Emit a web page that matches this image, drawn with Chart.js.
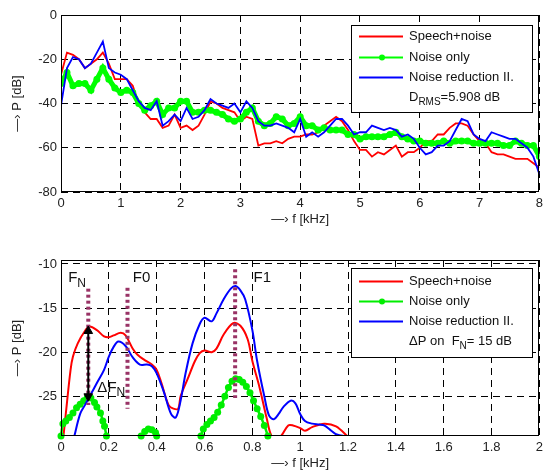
<!DOCTYPE html>
<html>
<head>
<meta charset="utf-8">
<script src="https://cdn.jsdelivr.net/npm/chart.js@4/dist/chart.umd.min.js"></script>
<style>
  body { margin: 0; background: #fff; width: 547px; height: 473px; overflow: hidden; position: relative; }
  canvas { position: absolute; left: 0; }
  #top { top: 0; }
  #bot { top: 230px; }
</style>
</head>
<body>
<canvas id="top" width="547" height="230"></canvas>
<canvas id="bot" width="547" height="243"></canvas>
<script>
// --- top panel: spectra 0..8 kHz, sampled every 0.1 kHz ---
const freqTop = [];
for (let i = 0; i <= 80; i++) freqTop.push(i / 10);

const speechTop = [-27, -17, -18, -20, -24, -22, -20, -17, -22, -29,
  -29, -29, -32, -40, -44, -47, -47, -51, -50, -45,
  -51, -50, -52, -50, -45, -39, -40, -42, -43, -44,
  -48, -46, -47, -59, -58, -58, -57, -58, -56, -55,
  -55, -54, -54, -53, -50, -48, -46, -48, -52, -57,
  -61, -61, -64, -62, -63, -61, -59, -64, -62, -62,
  -60, -57, -57, -54, -54, -51, -49, -49, -50, -54,
  -57, -58, -62, -63, -63, -64, -65, -65, -65, -67, -69];
const noiseTop = [-31, -26, -32, -31, -31, -34, -29, -24, -29, -33,
  -35, -34, -35, -40, -43, -41, -39, -45, -42, -42,
  -39, -39, -44, -44, -43, -43, -44, -45, -47, -48,
  -47, -44, -42, -48, -50, -49, -46, -47, -50, -49,
  -46, -50, -50, -52, -51, -52, -52, -52, -54, -54,
  -56, -55, -55, -55, -55, -54, -53, -55, -56, -57,
  -57, -58, -58, -58, -57, -58, -57, -57, -57, -58,
  -58, -58, -58, -58, -59, -59, -57, -58, -59, -59, -64];
const reducedTop = [-41, -24, -19, -20, -24, -22, -17, -12, -24, -26,
  -27, -29, -34, -39, -42, -43, -39, -50, -48, -45,
  -48, -42, -47, -46, -43, -38, -40, -41, -42, -40,
  -44, -39, -42, -48, -50, -50, -49, -50, -51, -53,
  -47, -55, -53, -55, -53, -50, -47, -47, -50, -54,
  -53, -53, -50, -51, -52, -51, -52, -55, -54, -56,
  -60, -63, -62, -59, -59, -57, -52, -47, -48, -54,
  -56, -57, -53, -54, -55, -56, -56, -58, -60, -64, -72];

const xTicksTop = [0, 1, 2, 3, 4, 5, 6, 7, 8];
const yTicksTop = [-80, -60, -40, -20, 0];

// --- bottom panel: zoom 0..2 kHz ---
const speechFreqB = [0.01, 0.02, 0.04, 0.05, 0.07, 0.1, 0.12, 0.15, 0.18, 0.2,
  0.22, 0.25, 0.27, 0.3, 0.32, 0.35, 0.38, 0.4, 0.42, 0.45,
  0.47, 0.49, 0.5, 0.53, 0.56, 0.58, 0.6, 0.63, 0.65, 0.68,
  0.72, 0.75, 0.78, 0.8, 0.83, 0.86, 0.88, 0.9, 0.92, 0.95,
  0.97, 1.0, 1.02, 1.05, 1.1, 1.15, 1.2];
const speechValB = [-29.6, -27, -22, -20.5, -19, -17.6, -17.1, -17.5, -18.2, -18.3,
  -18.1, -17.8, -18.1, -19.6, -20.3, -20.9, -21.4, -22, -23.5, -26,
  -26.4, -26.4, -25, -23, -21, -20.1, -19.8, -20, -19.6, -18,
  -16.7, -17, -18.5, -21, -24, -27.5, -29.5, -29.7, -29.5, -28.3,
  -28.3, -28.6, -28.9, -28.5, -28.1, -28.4, -29.6];

const noiseFreqB = [0, 0.008, 0.02, 0.035, 0.05, 0.065, 0.08, 0.095, 0.11, 0.125,
  0.14, 0.15, 0.165, 0.175, 0.182, 0.19, 0.26,
  0.335, 0.35, 0.365, 0.38, 0.395, 0.4, 0.5,
  0.585, 0.595, 0.61, 0.625, 0.64, 0.655, 0.67, 0.685, 0.7, 0.715,
  0.73, 0.745, 0.76, 0.775, 0.79, 0.805, 0.82, 0.835, 0.85, 0.865];
const noiseValB = [-29.5, -28.1, -27.8, -27.4, -26.9, -26.3, -25.9, -25.5, -25.1, -25.2,
  -25.7, -26.2, -26.9, -27.8, -28.4, -29.5, null,
  -29.5, -29.0, -28.7, -28.8, -29.1, -29.5, null,
  -29.5, -28.7, -28.2, -27.8, -27.4, -26.8, -26.0, -25.0, -24.0, -23.3,
  -23.0, -23.1, -23.4, -23.9, -24.6, -25.5, -26.4, -27.3, -28.3, -29.5];

const reducedFreqB = [0.055, 0.08, 0.1, 0.12, 0.15, 0.18, 0.2, 0.22, 0.24, 0.27,
  0.3, 0.33, 0.36, 0.38, 0.4, 0.43, 0.46, 0.48, 0.5, 0.52,
  0.55, 0.58, 0.6, 0.63, 0.65, 0.68, 0.71, 0.73, 0.75, 0.77,
  0.8, 0.82, 0.85, 0.87, 0.89, 0.91, 0.93, 0.96, 0.98, 1.0,
  1.02, 1.05, 1.08, 1.1, 1.13, 1.15, 1.2];
const reducedValB = [-29.6, -27, -26, -25, -23.5, -22, -20.5, -19.4, -18.8, -19.3,
  -20.6, -21.4, -21.4, -21.6, -22.4, -24.5, -27, -27.4, -25.5, -22.5,
  -19, -16.8, -16.1, -16.5, -15.6, -14, -12.8, -12.5, -13, -14,
  -17.5, -21, -25, -27.2, -27.6, -27, -26.2, -25.5, -25.8, -27,
  -27.8, -28.1, -28.2, -28.3, -28.9, -29.3, -29.6];

const xTicksBot = [0, 0.2, 0.4, 0.6, 0.8, 1, 1.2, 1.4, 1.6, 1.8, 2];
const yTicksBot = [-25, -20, -15, -10];

// markers on the bottom panel: F_N, F0, F1 lines and the delta-P arrow
const markFN = { f: 0.114, from: -12.8, to: -26 };
const markF0 = { f: 0.278, from: -12.7, to: -26.4 };
const markF1 = { f: 0.728, from: -10.6, to: -25.2 };
const arrowFN = { f: 0.114, from: -17.6, to: -25.0 };

const FONT = '"Liberation Sans", Arial, sans-serif';
Chart.defaults.font.family = FONT;
Chart.defaults.font.size = 13;
Chart.defaults.color = '#222';

function pts(xs, ys) {
  return xs.map((x, i) => ({ x: x, y: ys[i] }));
}

function drawParts(ctx, parts, x, y, size) {
  ctx.textBaseline = 'middle';
  ctx.textAlign = 'left';
  ctx.fillStyle = '#111';
  for (const [t, sub] of parts) {
    ctx.font = (sub ? Math.round(size * 0.78) : size) + 'px ' + FONT;
    ctx.fillText(t, x, sub ? y + size * 0.38 : y);
    x += ctx.measureText(t).width;
  }
}

function axes(xr, xt, yr, yt, xH, titleBot) {
  return {
    x: {
      type: 'linear', min: xr[0], max: xr[1],
      afterBuildTicks: s => { s.ticks = xt.map(v => ({ value: v })); },
      afterFit: s => { s.height = xH; },
      grid: { color: '#000', lineWidth: 1, drawTicks: false },
      border: { display: false, dash: [7, 5] },
      ticks: { padding: 4, autoSkip: false, maxRotation: 0, callback: v => String(v) },
      title: { display: true, text: '—› f [kHz]', padding: { top: 0, bottom: titleBot } }
    },
    y: {
      min: yr[0], max: yr[1],
      afterBuildTicks: s => { s.ticks = yt.map(v => ({ value: v })); },
      afterFit: s => { s.width = 61; },
      grid: { color: '#000', lineWidth: 1, drawTicks: false },
      border: { display: false, dash: [7, 5] },
      ticks: { padding: 4, callback: v => String(v) },
      title: { display: true, text: '—› P [dB]', padding: { top: 10, bottom: 0 } }
    }
  };
}

function framePlugin(legend) {
  return {
    id: 'frameLegend',
    afterDraw(chart) {
      const ctx = chart.ctx, a = chart.chartArea;
      ctx.save();
      ctx.strokeStyle = '#000';
      ctx.lineWidth = 1;
      ctx.setLineDash([]);
      ctx.strokeRect(Math.round(a.left) + 0.5, Math.round(a.top) + 0.5,
        Math.round(a.width) - 1, Math.round(a.height) - 1);

      // legend box
      const L = Math.round(a.right) - 188, T = Math.round(a.top) + legend.top;
      ctx.fillStyle = '#fff';
      ctx.fillRect(L, T, 181, legend.h);
      ctx.strokeRect(L + 0.5, T + 0.5, 181, legend.h);
      const items = chart.data.datasets.filter(d => d.inLegend);
      items.forEach((d, i) => {
        const y = Math.round(T + legend.row0 + i * legend.step) + 0.5;
        ctx.strokeStyle = d.borderColor;
        ctx.lineWidth = 2;
        ctx.beginPath();
        ctx.moveTo(L + 8, y);
        ctx.lineTo(L + 52, y);
        ctx.stroke();
        if (d.pointRadius > 0) {
          ctx.fillStyle = d.borderColor;
          ctx.beginPath();
          ctx.arc(L + 31, y, 3, 0, Math.PI * 2);
          ctx.fill();
        }
        drawParts(ctx, [[d.label, 0]], L + 58, y, 13);
      });
      drawParts(ctx, legend.extra, L + 58, T + legend.row0 + 3 * legend.step, 13);

      // free text labels in data units
      (legend.texts || []).forEach(t => {
        const px = chart.scales.x.getPixelForValue(t.f);
        const py = chart.scales.y.getPixelForValue(t.p);
        drawParts(ctx, t.parts, px, py, 15);
      });
      ctx.restore();
    }
  };
}

// ---------- top chart ----------
new Chart(document.getElementById('top').getContext('2d'), {
  type: 'line',
  data: {
    datasets: [
      { label: 'Speech+noise', inLegend: true, data: pts(freqTop, speechTop),
        borderColor: '#ff0000', borderWidth: 1.8, pointRadius: 0, order: 3 },
      { label: 'Noise only', inLegend: true, data: pts(freqTop, noiseTop),
        borderColor: '#00ff00', backgroundColor: '#00ff00', borderWidth: 5,
        pointRadius: 3.5, pointBorderWidth: 0, pointBackgroundColor: '#00ff00', order: 2 },
      { label: 'Noise reduction II.', inLegend: true, data: pts(freqTop, reducedTop),
        borderColor: '#0000ff', borderWidth: 1.8, pointRadius: 0, order: 1 }
    ]
  },
  options: {
    responsive: false,
    animation: false,
    clip: 0,
    layout: { padding: { left: 0, right: 7, top: 15, bottom: 0 } },
    plugins: { legend: { display: false }, tooltip: { enabled: false } },
    scales: axes([0, 8], xTicksTop, [-80, 0], yTicksTop, 38, 3)
  },
  plugins: [framePlugin({
    top: 10, h: 87, row0: 11, step: 20.5,
    extra: [['D', 0], ['RMS', 1], ['=5.908 dB', 0]]
  })]
});

// ---------- bottom chart ----------
const purple = '#993366';
function vline(m, color, width, dash) {
  return { inLegend: false, data: [{ x: m.f, y: m.from }, { x: m.f, y: m.to }],
    borderColor: color, borderWidth: width, borderDash: dash, pointRadius: 0, order: 0 };
}

new Chart(document.getElementById('bot').getContext('2d'), {
  type: 'line',
  data: {
    datasets: [
      { label: 'Speech+noise', inLegend: true, data: pts(speechFreqB, speechValB),
        borderColor: '#ff0000', borderWidth: 2, pointRadius: 0, tension: 0.35, order: 3 },
      { label: 'Noise only', inLegend: true, data: pts(noiseFreqB, noiseValB),
        borderColor: '#00ee00', backgroundColor: '#00ee00', borderWidth: 2.5,
        pointRadius: 3.5, pointBorderWidth: 0, pointBackgroundColor: '#00ee00',
        tension: 0.3, clip: 4, order: 2 },
      { label: 'Noise reduction II.', inLegend: true, data: pts(reducedFreqB, reducedValB),
        borderColor: '#0000ff', borderWidth: 2, pointRadius: 0, tension: 0.35, order: 1 },
      vline(markFN, purple, 4, [3, 3]),
      vline(markF0, purple, 4, [3, 3]),
      vline(markF1, purple, 4, [3, 3]),
      { inLegend: false, data: [{ x: arrowFN.f, y: arrowFN.from }, { x: arrowFN.f, y: arrowFN.to }],
        borderColor: '#000', borderWidth: 2, pointStyle: 'triangle', pointRadius: 5,
        pointRotation: [0, 180], pointBackgroundColor: '#000', pointBorderColor: '#000',
        pointBorderWidth: 1, order: -1 }
    ]
  },
  options: {
    responsive: false,
    animation: false,
    clip: 0,
    layout: { padding: { left: 0, right: 7, top: 30, bottom: 0 } },
    plugins: { legend: { display: false }, tooltip: { enabled: false } },
    scales: axes([0, 2], xTicksBot, [-29.5, -9.55], yTicksBot, 37, 2)
  },
  plugins: [framePlugin({
    top: 8, h: 89, row0: 13, step: 20,
    extra: [['ΔP on  F', 0], ['N', 1], ['= 15 dB', 0]],
    texts: [
      { f: 0.03, p: -11.6, parts: [['F', 0], ['N', 1]] },
      { f: 0.30, p: -11.6, parts: [['F0', 0]] },
      { f: 0.805, p: -11.6, parts: [['F1', 0]] },
      { f: 0.152, p: -24.0, parts: [['ΔF', 0], ['N', 1]] }
    ]
  })]
});
</script>
</body>
</html>
